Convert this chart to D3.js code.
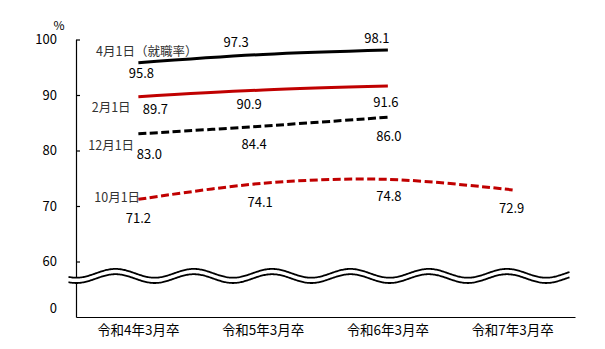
<!DOCTYPE html>
<html><head><meta charset="utf-8">
<script src="https://cdn.jsdelivr.net/npm/d3@7"></script>
<style>
html,body{margin:0;padding:0;background:#fff;}
svg{display:block;}
text{font-family:"Noto Sans CJK JP","Noto Sans",sans-serif;}
</style></head>
<body>
<script>
// ---- data ----
const categories = ["令和4年3月卒","令和5年3月卒","令和6年3月卒","令和7年3月卒"];
const seriesNames = ["4月1日（就職率）","2月1日","12月1日","10月1日"];
const apr1 = [95.8, 97.3, 98.1];
const feb1 = [89.7, 90.9, 91.6];
const dec1 = [83.0, 84.4, 86.0];
const oct1 = [71.2, 74.1, 74.8, 72.9];
const yTickValues = [60, 70, 80, 90, 100];
const yZeroLabel = "0";

// ---- layout / style ----
const W = 605, H = 349;
const seriesValues = [apr1, feb1, dec1, oct1];
const seriesColors = ["#000000", "#C00000", "#000000", "#C00000"];
const seriesDash = [null, null, "8,3.5", "8,3.5"];
// label offsets (dx, dy) from each point
const labelOffsets = [
  [[3,9.5],[-27,-12.8],[-11,-12.3]],
  [[17,11.6],[-14,13.3],[-2,15.6]],
  [[11,19.4],[-9,17.9],[1,18.5]],
  [[0,18],[-3,18.5],[1,16.6],[-1,17.4]]
];
const nameLabelPos = [[96,50],[91.7,106.7],[88.3,144],[94.3,196.7]];

const svg = d3.select("body").append("svg").attr("width", W).attr("height", H);

const x = d3.scaleBand().domain(categories).range([76, 575]).padding(0);
const y = d3.scaleLinear().domain([50, 100]).range([317, 39.5]);

// y axis
const yAxis = svg.append("g").attr("transform", "translate(76,0)")
  .call(d3.axisLeft(y).tickValues(yTickValues).tickSize(-4).tickSizeOuter(0).tickPadding(19));
yAxis.selectAll("text").attr("font-size", 13).attr("fill", "#000")
  .style("font-family", "'Noto Sans CJK JP',sans-serif");
yAxis.selectAll("line,path").attr("stroke", "#000").attr("stroke-width", 1.2);

// zero label (broken axis)
svg.append("text").attr("x", 57).attr("y", y(51.7)).attr("text-anchor", "end")
  .attr("dominant-baseline", "central").attr("font-size", 13).text(yZeroLabel);

// percent sign
svg.append("text").attr("x", 59).attr("y", 24).attr("text-anchor", "middle")
  .attr("dominant-baseline", "central").attr("font-size", 12).text("%");

// x axis
const xAxis = svg.append("g").attr("transform", "translate(0,317)")
  .call(d3.axisBottom(x).tickSize(0).tickSizeOuter(0).tickPadding(8));
xAxis.selectAll("text").attr("font-size", 13.5).attr("fill", "#000")
  .style("font-family", "'Noto Sans CJK JP',sans-serif");
xAxis.selectAll("path").attr("stroke", "#000").attr("stroke-width", 1.2);

// wave (axis break)
const waveStart = 68.5, waveEnd = 570, period = 78.3, crest0 = 115.5, amp = 4.4;
const topC = 273.3, botC = 278.6;
const xs = d3.range(waveStart, waveEnd + 0.01, 1);
const wy = (xx, c) => c - amp * Math.cos(2 * Math.PI * (xx - crest0) / period);
const topPts = xs.map(v => [v, wy(v, topC)]);
const botPts = xs.map(v => [v, wy(v, botC)]);
svg.append("path")
  .attr("d", d3.line()(topPts.concat(botPts.slice().reverse())) + "Z")
  .attr("fill", "#fff").attr("stroke", "none");
[topPts, botPts].forEach(p => svg.append("path").attr("d", d3.line()(p))
  .attr("fill", "none").attr("stroke", "#000").attr("stroke-width", 1.8));

// series lines
const line = d3.line()
  .x((d, i) => x(categories[i]) + x.bandwidth() / 2)
  .y(d => y(d))
  .curve(d3.curveCatmullRom.alpha(0));

seriesValues.forEach((vals, s) => {
  svg.append("path").attr("d", line(vals))
    .attr("fill", "none").attr("stroke", seriesColors[s]).attr("stroke-width", 3)
    .attr("stroke-dasharray", seriesDash[s]);
  vals.forEach((v, i) => {
    const px = x(categories[i]) + x.bandwidth() / 2, py = y(v);
    svg.append("text").attr("x", px + labelOffsets[s][i][0]).attr("y", py + labelOffsets[s][i][1])
      .attr("text-anchor", "middle").attr("dominant-baseline", "central")
      .attr("font-size", 13).attr("fill", "#000").text(v.toFixed(1));
  });
  svg.append("text").attr("x", nameLabelPos[s][0]).attr("y", nameLabelPos[s][1])
    .attr("dominant-baseline", "central").attr("font-size", 12.5).attr("fill", "#333")
    .text(seriesNames[s]);
});
</script>
</body></html>
